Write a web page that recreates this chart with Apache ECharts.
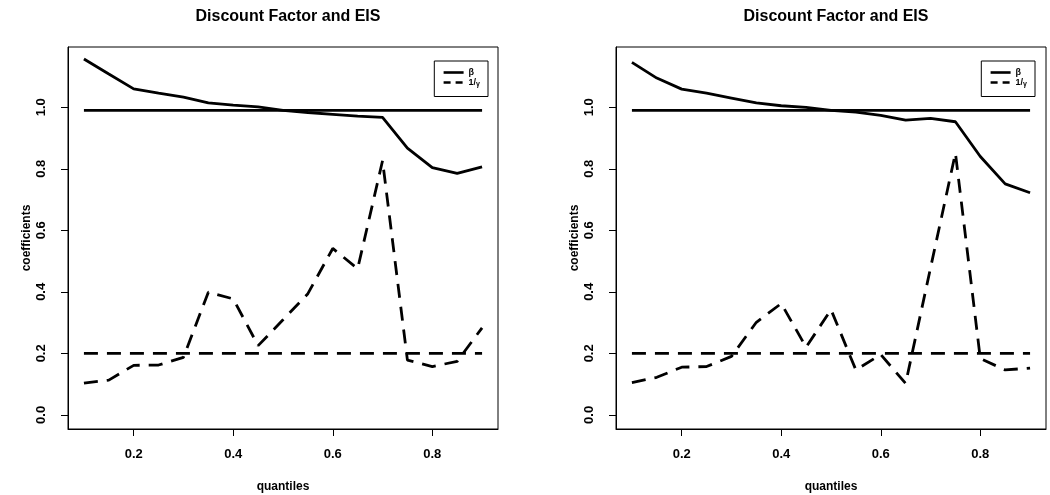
<!DOCTYPE html>
<html>
<head>
<meta charset="utf-8">
<script src="https://cdn.jsdelivr.net/npm/echarts@6/dist/echarts.min.js"></script>
<style>
html,body{margin:0;padding:0;background:#fff;}
#chart{width:1050px;height:495px;}
</style>
</head>
<body>
<div id="chart"></div>
<script>
// ---- data ----
const quantiles = [0.1,0.15,0.2,0.25,0.3,0.35,0.4,0.45,0.5,0.55,0.6,0.65,0.7,0.75,0.8,0.85,0.9];
const betaLeft  = [1.157,1.108,1.060,1.046,1.033,1.014,1.007,1.001,0.990,0.983,0.977,0.971,0.967,0.867,0.804,0.785,0.806];
const eisLeft   = [0.103,0.113,0.161,0.162,0.187,0.399,0.377,0.225,0.309,0.394,0.541,0.475,0.826,0.178,0.157,0.174,0.283];
const betaRight = [1.146,1.095,1.059,1.046,1.030,1.014,1.005,1.000,0.990,0.984,0.974,0.958,0.964,0.953,0.840,0.751,0.722];
const eisRight  = [0.105,0.122,0.155,0.157,0.190,0.301,0.362,0.220,0.342,0.146,0.196,0.102,0.478,0.851,0.183,0.146,0.152];
const betaRef = 0.99;
const eisRef = 0.2;
const xTicks = [0.2,0.4,0.6,0.8];
const yTicks = [0.0,0.2,0.4,0.6,0.8,1.0];
const titleText = 'Discount Factor and EIS';
const legendNames = ['β','1/γ'];

const FONT = 'Liberation Sans, Arial, Helvetica, sans-serif';
const LW = 2.8;
const DASH = [14, 9];

function pairs(xs, ys){ return xs.map((x,i)=>[x, ys[i]]); }
function flat(v){ return [[quantiles[0], v],[quantiles[quantiles.length-1], v]]; }

const panels = [
  {left:68, beta:betaLeft, eis:eisLeft, legendRight:562},
  {left:616, beta:betaRight, eis:eisRight, legendRight:15}
];

const hidden = {color:'rgba(0,0,0,0)', borderColor:'rgba(0,0,0,0)', borderWidth:0, opacity:0};

const grid=[], xAxis=[], yAxis=[], series=[], title=[], legend=[];
panels.forEach((p,i)=>{
  grid.push({left:p.left, top:47, width:430, height:382, show:true, borderColor:'#000', borderWidth:1,
    containLabel:false, outerBoundsMode:'none'});
  title.push({text:titleText, left:p.left+215, top:4, textAlign:'center',
    textStyle:{fontFamily:FONT, fontSize:16, fontWeight:'bold', color:'#000'}});
  xAxis.push({type:'value', gridIndex:i, min:0.068, max:0.932,
    name:'quantiles', nameLocation:'middle', nameGap:52, nameMoveOverlap:false,
    nameTextStyle:{fontFamily:FONT, fontSize:12, fontWeight:'bold', color:'#000'},
    axisLine:{show:true, onZero:false, lineStyle:{color:'#000', width:1}},
    axisTick:{show:true, length:7, customValues:xTicks, lineStyle:{color:'#000', width:1}},
    axisLabel:{show:true, customValues:xTicks, margin:19, fontFamily:FONT, fontSize:13, fontWeight:'bold', color:'#000',
      formatter:v=>v.toFixed(1)},
    splitLine:{show:false}});
  yAxis.push({type:'value', gridIndex:i, min:-0.046, max:1.196,
    name:'coefficients', nameLocation:'middle', nameGap:35, nameRotate:90, nameMoveOverlap:false,
    nameTextStyle:{fontFamily:FONT, fontSize:12, fontWeight:'bold', color:'#000'},
    axisLine:{show:true, onZero:false, lineStyle:{color:'#000', width:1}},
    axisTick:{show:true, length:7, customValues:yTicks, lineStyle:{color:'#000', width:1}},
    axisLabel:{show:true, customValues:yTicks, rotate:90, margin:20, fontFamily:FONT, fontSize:13, fontWeight:'bold', color:'#000',
      formatter:v=>v.toFixed(1)},
    splitLine:{show:false}});
  series.push({type:'line', name:legendNames[0], xAxisIndex:i, yAxisIndex:i, data:pairs(quantiles,p.beta),
    symbol:'none', silent:true, lineStyle:{color:'#000', width:LW, type:'solid'}, itemStyle:{color:'#000'}});
  series.push({type:'line', name:legendNames[1], xAxisIndex:i, yAxisIndex:i, data:pairs(quantiles,p.eis),
    symbol:'none', silent:true, lineStyle:{color:'#000', width:LW, type:DASH}, itemStyle:{color:'#000'}});
  series.push({type:'line', name:'betaRef'+i, xAxisIndex:i, yAxisIndex:i, data:flat(betaRef),
    symbol:'none', silent:true, lineStyle:{color:'#000', width:LW, type:'solid'}});
  series.push({type:'line', name:'eisRef'+i, xAxisIndex:i, yAxisIndex:i, data:flat(eisRef),
    symbol:'none', silent:true, lineStyle:{color:'#000', width:LW, type:DASH}});
  legend.push({
    data:[
      {name:legendNames[0], itemStyle:hidden, lineStyle:{type:'solid', width:2.6, color:'#000'}},
      {name:legendNames[1], itemStyle:hidden, lineStyle:{type:[7,5], width:2.6, color:'#000'}}
    ],
    right:p.legendRight, top:61, orient:'vertical',
    borderColor:'#000', borderWidth:1, borderRadius:0, padding:[7,8,9,8], itemGap:1,
    itemWidth:20, itemHeight:10, selectedMode:false, itemStyle:hidden,
    textStyle:{fontFamily:FONT, fontSize:9, fontWeight:'bold', color:'#000',
      rich:{g:{fontFamily:FONT, fontSize:7, fontWeight:'bold', color:'#000', verticalAlign:'bottom', padding:[3,0,0,0]}}},
    formatter:n=> n==='1/γ' ? '1/{g|γ}' : n});
});

const chart = echarts.init(document.getElementById('chart'), null, {renderer:'canvas'});
chart.setOption({animation:false, backgroundColor:'#fff', title, grid, xAxis, yAxis, series, legend});
</script>
</body>
</html>
